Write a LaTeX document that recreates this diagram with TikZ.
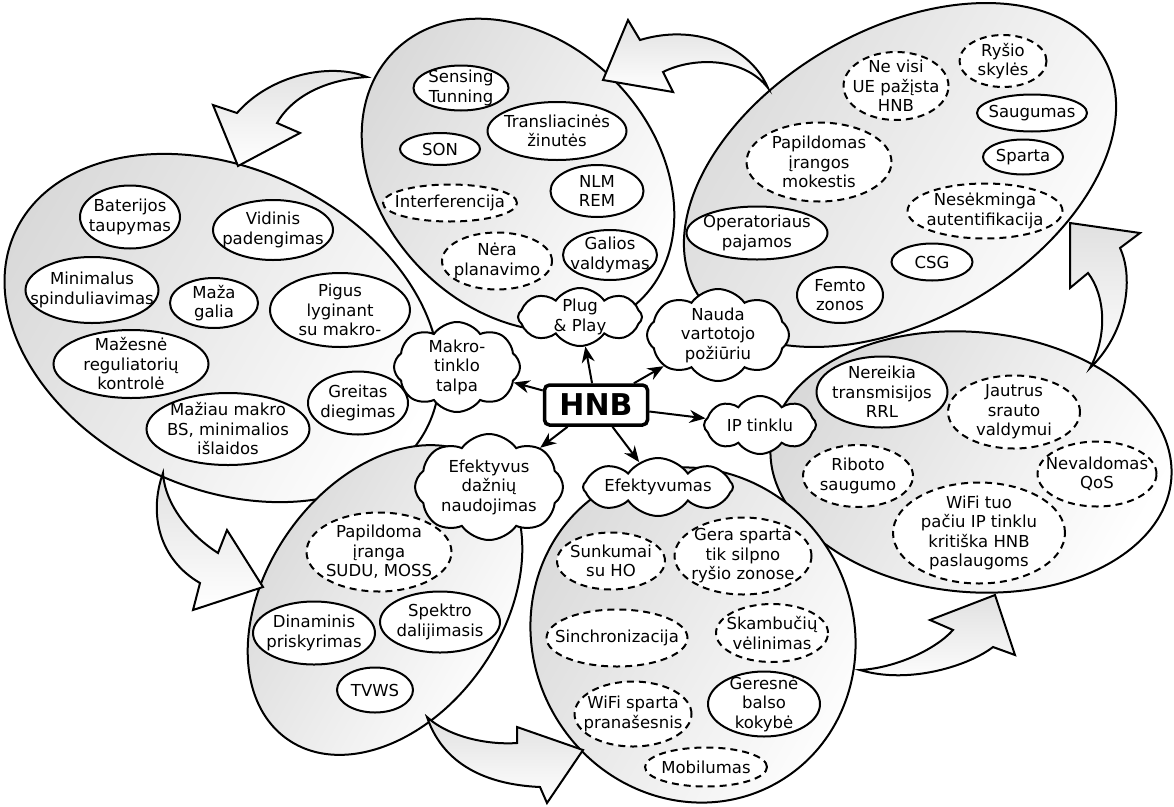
\documentclass[tikz,border=0pt]{standalone}
\usepackage{fontspec}
\setmainfont{DejaVu Sans}
\usetikzlibrary{shapes.geometric,shapes.symbols,arrows.meta}
\tikzset{
  txt/.style={align=center, inner sep=0pt, font=\fontsize{16.5}{19.5}\selectfont},
  inell/.style={ellipse, draw, line width=2pt, fill=white, inner sep=0pt},
  sol/.style={inell},
  das/.style={inell, dash pattern=on 7pt off 5pt},
  cloudn/.style={cloud, cloud puffs=8, cloud puff arc=110, cloud ignores aspect, draw, line width=2pt, fill=white, inner sep=0pt},
  bigell/.style={draw, line width=2pt, top color=black!15, bottom color=white, shading angle=60},
  blockarrow/.style={draw, line width=2pt, line join=miter, top color=black!12, bottom color=white},
  hnbarrow/.style={draw, line width=2pt, -{Stealth[length=16pt,width=13pt]}},
}
\newcommand\mybub[7]{\node[#6, minimum width=#4pt, minimum height=#5pt] (#1) at (#2,#3) {};
  \node[txt] (#1t) at (#1) {#7};}
\begin{document}
\begin{tikzpicture}[x=1pt,y=-1pt]
\useasboundingbox (0,0) rectangle (1174,806);
% big ellipses
\path[bigell, rotate around={-45:(518,175)}] (518,175) ellipse [x radius=175pt, y radius=135pt];
\path[bigell, rotate around={30:(900,175)}] (900,175) ellipse [x radius=235pt, y radius=145pt];
\path[bigell, rotate around={-25:(222,328)}] (222,328) ellipse [x radius=228pt, y radius=160pt];
\path[bigell, rotate around={-5:(971,462)}] (971,462) ellipse [x radius=201pt, y radius=130pt];
\path[bigell, rotate around={55:(385,600)}] (385,600) ellipse [x radius=170pt, y radius=118pt];
\path[bigell, rotate around={-60:(693,635)}] (693,635) ellipse [x radius=170pt, y radius=160pt];
% block arrows
\path[blockarrow] (768,88) .. controls (752,50) and (700,22) .. (640,40) -- (628,20) -- (603,80) -- (673,92) -- (663,72) .. controls (695,56) and (745,58) .. (768,88) -- cycle;
\path[blockarrow] (367,77) .. controls (330,62) and (270,75) .. (237,113) -- (213,105) -- (238,166) -- (300,133) -- (277,123) .. controls (290,100) and (320,80) .. (367,77) -- cycle;
\path[blockarrow] (163,473) .. controls (148,515) and (160,560) .. (200,583) -- (193,610) -- (263,587) -- (227,530) -- (218,553) .. controls (190,535) and (165,505) .. (163,473) -- cycle;
\path[blockarrow] (427,717) .. controls (450,738) and (490,745) .. (517,743) -- (517,727) -- (583,750) -- (547,803) -- (540,787) .. controls (495,785) and (445,770) .. (427,717) -- cycle;
\path[blockarrow] (860,670) .. controls (895,668) and (935,650) .. (953,630) -- (930,620) -- (995,595) -- (1015,655) -- (993,647) .. controls (970,665) and (910,685) .. (860,670) -- cycle;
\path[blockarrow] (1090,368) .. controls (1108,335) and (1105,295) .. (1088,273) -- (1070,288) -- (1070,223) -- (1140,233) -- (1120,248) .. controls (1135,280) and (1125,335) .. (1090,368) -- cycle;
% left group
\mybub{bat}{130}{217}{100}{63}{sol}{Baterijos\\taupymas}
\mybub{vid}{273}{230}{120}{60}{sol}{Vidinis\\padengimas}
\mybub{min}{92}{290}{133}{66}{sol}{Minimalus\\spinduliavimas}
\mybub{maz}{214}{303}{88}{50}{sol}{Maža\\galia}
\mybub{pig}{340}{310}{140}{74}{sol}{Pigus\\lyginant\\su makro-}
\mybub{reg}{131}{364}{155}{68}{sol}{Mažesnė\\reguliatorių\\kontrolė}
\mybub{gre}{358}{403}{100}{63}{sol}{Greitas\\diegimas}
\mybub{mak}{228}{429}{163}{72}{sol}{Mažiau makro\\BS, minimalios\\išlaidos}
% top group
\mybub{sen}{461}{88}{95}{45}{sol}{Sensing\\Tunning}
\mybub{tra}{557}{131}{139}{58}{sol}{Transliacinės\\žinutės}
\mybub{son}{440}{149}{80}{32}{sol}{SON}
\mybub{int}{450}{203}{134}{37}{das}{Interferencija}
\mybub{nlm}{597}{191}{93}{52}{sol}{NLM\\REM}
\mybub{ner}{497}{261}{110}{57}{das}{Nėra\\planavimo}
\mybub{gal}{610}{255}{94}{50}{sol}{Galios\\valdymas}
% top-right group
\mybub{nev}{896}{86}{105}{68}{das}{Ne visi\\UE pažįsta\\HNB}
\mybub{rys}{1003}{61}{87}{52}{das}{Ryšio\\skylės}
\mybub{sau}{1032}{113}{110}{37}{sol}{Saugumas}
\mybub{pap}{819}{162}{145}{79}{das}{Papildomas\\įrangos\\mokestis}
\mybub{spa}{1023}{157}{80}{35}{sol}{Sparta}
\mybub{nes}{985}{211}{155}{55}{das}{Nesėkminga\\autentifikacija}
\mybub{ope}{757}{233}{141}{53}{sol}{Operatoriaus\\pajamos}
\mybub{csg}{932}{262}{81}{37}{sol}{CSG}
\mybub{fem}{840}{295}{86}{56}{sol}{Femto\\zonos}
% right group
\mybub{nrk}{882}{392}{131}{71}{sol}{Nereikia\\transmisijos\\RRL}
\mybub{jau}{1014}{412}{132}{73}{das}{Jautrus\\srauto\\valdymui}
\mybub{rib}{858}{476}{110}{62}{das}{Riboto\\saugumo}
\mybub{nqo}{1097}{474}{119}{65}{das}{Nevaldomas\\QoS}
\mybub{wif}{979}{533}{172}{101}{das}{WiFi tuo\\pačiu IP tinklu\\kritiška HNB\\paslaugoms}
% bottom-left group
\mybub{ppi}{379}{552}{145}{79}{das}{Papildoma\\įranga\\SUDU, MOSS}
\mybub{din}{314}{633}{122}{63}{sol}{Dinaminis\\priskyrimas}
\mybub{spe}{440}{622}{120}{61}{sol}{Spektro\\dalijimasis}
\mybub{tvw}{375}{690}{76}{45}{sol}{TVWS}
% bottom-middle group
\mybub{sun}{611}{561}{108}{57}{das}{Sunkumai\\su HO}
\mybub{ger}{743}{556}{137}{77}{das}{Gera sparta\\tik silpno\\ryšio zonose}
\mybub{sin}{617}{638}{141}{57}{das}{Sinchronizacija}
\mybub{ska}{772}{633}{112}{58}{das}{Skambučių\\vėlinimas}
\mybub{wsp}{633}{714}{117}{65}{das}{WiFi sparta\\pranašesnis}
\mybub{gbk}{764}{704}{112}{65}{sol}{Geresnė\\balso\\kokybė}
\mybub{mob}{706}{767}{122}{39}{das}{Mobilumas}
% clouds
\mybub{plug}{580}{317}{124}{58}{cloudn}{Plug\\\& Play}
\mybub{nauda}{718}{335}{142}{92}{cloudn}{Nauda\\vartotojo\\požiūriu}
\mybub{makro}{457}{367}{126}{90}{cloudn}{Makro-\\tinklo\\talpa}
\mybub{ip}{760}{425}{112}{58}{cloudn}{IP tinklu}
\mybub{efd}{489}{487}{148}{106}{cloudn}{Efektyvus\\dažnių\\naudojimas}
\mybub{efk}{658}{487}{150}{58}{cloudn}{Efektyvumas}
% HNB
\node[draw, line width=3.5pt, rounded corners=5pt, fill=white, minimum width=103pt, minimum height=40pt, inner sep=0pt, font=\fontsize{30}{30}\bfseries\selectfont] (hnb) at (596,405) {HNB};
\draw[hnbarrow] (hnb) -- (plug);
\draw[hnbarrow] (hnb) -- (nauda);
\draw[hnbarrow] (hnb) -- (makro);
\draw[hnbarrow] (hnb) -- (ip);
\draw[hnbarrow] (hnb) -- (efd);
\draw[hnbarrow] (hnb) -- (efk);
\end{tikzpicture}
\end{document}
